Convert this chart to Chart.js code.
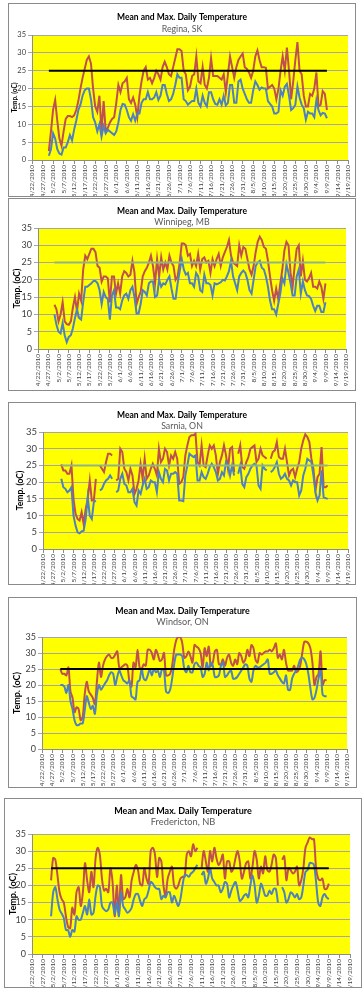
<!DOCTYPE html>
<html>
<head>
<meta charset="utf-8">
<script src="https://cdn.jsdelivr.net/npm/chart.js@4.4.1/dist/chart.umd.min.js"></script>
<style>
  body { margin: 0; background: #fff; width: 364px; height: 1000px; position: relative; overflow: hidden; }
  .box { position: absolute; border: 1px solid #8a8a8a; background: #fff; box-sizing: border-box; overflow: hidden; }
  .box canvas { position: absolute; left: 0; top: 0; }
</style>
</head>
<body>
<div class="box" id="p1"><canvas id="c1"></canvas></div>
<div class="box" id="p2"><canvas id="c2"></canvas></div>
<div class="box" id="p3"><canvas id="c3"></canvas></div>
<div class="box" id="p4"><canvas id="c4"></canvas></div>
<div class="box" id="p5"><canvas id="c5"></canvas></div>
<script>
// x axis: day number, day 0 = 4/22/2010, one label every 5 days
var tickLabels = ['4/22/2010','4/27/2010','5/2/2010','5/7/2010','5/12/2010','5/17/2010','5/22/2010',
  '5/27/2010','6/1/2010','6/6/2010','6/11/2010','6/16/2010','6/21/2010','6/26/2010','7/1/2010',
  '7/6/2010','7/11/2010','7/16/2010','7/21/2010','7/26/2010','7/31/2010','8/5/2010','8/10/2010',
  '8/15/2010','8/20/2010','8/25/2010','8/30/2010','9/4/2010','9/9/2010','9/14/2010','9/19/2010'];
var lastDay = 140;   // 9/9/2010
var limitTemp = 25;

// Regina, SK  (first value = day 8, 4/30)
var reginaStart = 8;
var reginaMax = [2.5,8,14,16.8,11,6,4,8,11.5,12.3, 12.3,12,12.5,14,16.5,20,23,25.5,28,29,
  27,20,15,13.5,18,8,16.5,8,9,10.5, 11.5,12,16,21,19,21.5,22,23,17,16,
  17.5,15.5,12,18,22,25,26,22.5,23,21.5, 23,25,24,22.5,26,27.5,26,24,23.5,26,
  28.5,31,31,30.5,25,24,19.5,20.5,23.5,24, 29,22,21.5,26,21,20,23,28.5,23.5,23.5,
  23.5,23,22.5,24,19,24,29,26,23,26, 28,29,29.8,26,25.5,24.5,23,25,29,30.7,
  28,26,26,25.8,20,20.5,21,20,17,20, 25,29,25,31.5,25,17,22,28,33,25,
  24,18,15,15,18.5,18,20,24.5,15,15.5, 19.3,18.5,14];
var reginaMean = [1.2,3,7.5,6,3,1.8,1.5,3.5,3.5,5, 7,5.5,8.5,11,14,15.5,18,19.5,20,20,
  17,12,10.5,8,10,6.5,9.5,7.5,8.5,8, 7.5,7,8,10.5,14,15.7,15.5,14,12,11,
  12.8,11,13,13,16,17,17,19,17,17, 17.5,19,16.8,18,21,21,18.5,16.5,17,18.5,
  21,24,23,23,17,16.5,15.5,16,16.5,16.5, 20,16,15,18,16,15,19,19,17,15.7,
  15.5,17,15.5,18,15.3,16,21,21,16,16, 22,22.5,20,18.5,17,16,16,19.5,22,21,
  19.7,20.3,20,20,16.5,15.7,15,13,13,13.5, 19.5,18,20.5,21.3,18,14,14.5,15.5,20.6,17.5,
  15.5,14.5,11.3,13.5,13,13,12,16.8,14,12.5, 13.2,13,11.7];

// Winnipeg, MB  (first value = day 8)
var winnipegStart = 8;
var winnipegMax = [12.8,11.5,8,10,13.5,8,7.2,7,8,12, 15,11,16,14,23,27,26,27.5,29,29,
  28,24,23.5,19.5,21,21,20.5,13.5,21,21, 16,19,16,21,22.5,22,21,21.5,25.5,22,
  13,15,16.5,21,22.5,23.5,25,27,24,19, 26,21,26.5,23,25,23,27,25,24,20,
  21,25,30.5,30.5,30,27,27.5,24,25.5,24, 27.5,23,26,26.5,25,25.5,22,26,24,26,
  27.5,24,26.5,28,29.5,31.5,27,25,24.5,24, 30,27,29.5,29,26,23,21.5,24,28,31,
  32.5,31.5,29.5,29,25.5,21,17,14,17.5,14.5, 19,23,28.5,31,30,22,18,24,29,30,
  21,25.5,20,19.5,20.5,22,18,18,17.5,19.5, 18,14.5,19];
var winnipegMean = [10,7,5,4.5,7.5,4,2,3.5,4,6, 9,11.5,9,8.5,13.5,18,18,18.5,19,19.7,
  19.7,19,17,13,16.5,15,14.5,8.5,15.5,17, 12,12,11.5,14,15.5,16,14.5,17,18,15,
  10.3,10.3,13,17,16.5,15.5,19,19.5,19.5,15, 15.5,20,18,19,18.7,20,21,17.5,14.5,14.5,
  19,22.5,26,23,21.5,22,19,19,18,22, 21,17,16.5,21.5,19,19,18.5,15.5,19,18.7,
  19,19.3,20,19.8,21,22.5,25.5,21,19,17, 21,22,22.7,22,20,17,16,20,24,25,
  25.5,23.5,23,21,18,14,11.5,11.5,10,13, 16,20.5,19,24.5,22,19,15.5,15.5,21,23,
  16,19.5,17,15.5,15.3,14.5,12.5,11,12.5,12.5, 10.7,10.7,13.5];

// Sarnia, ON  (first value = day 9, 5/1)
var sarniaStart = 9;
var sarniaMax = [25.3,23.5,23.5,22.5,22.5,25,15,10.5,9,8.5, 11,7.5,12,15,20.5,14.5,14.5,21,null,25,
  24,23,26,28.5,28.5,28,null,20.5,21,30, 29,24,23,20.5,24,22,16.5,18,20.5,25.5,
  21,27,21,22,24,25.5,24,22,30,26, 27,30,29,25,28,27,29,27,19.5,20,
  21.5,28,31,33.5,34,34,34.5,26,25,31, 25,24.5,28,31,30,31,28,22.5,26,28,
  31,28,24,30,30.5,23,null,28.5,31,24.5, 24,26,27.5,30,30.5,31,26,27,30,28,
  27.5,27,null,27,29,29.5,32,27.5,27,27, 30,26,22,23.5,24,21.5,24,26,30,32.5,
  34.3,33.5,32,27,24,17.5,21.5,22.5,30.5,18.5, 18.5,19];
var sarniaMean = [21,18.5,18,17,17.5,18.5,10,7,5,4.7, 5.3,5.5,9,15.5,10,9,14,14.5,null,17.5,
  18,19.5,20.5,21,22,21,null,17,17.5,21, 22.5,19.5,19,17,17,18,14,13,17.5,16.5,
  19,21,18,18.5,20.5,20,20,17,23,21, 20,24,23.5,20.5,22.5,22.5,23,22.5,14.5,14.5,
  14.3,22,25,28.5,28,27.5,28,20.5,20.5,23, 21.5,21,22.5,24.5,25.5,24.5,23,20.5,21,23,
  22,26,25,22,25,22,null,22.5,25,19.5, 18.5,21.5,22.5,24,25,25.5,25,19,18,25,
  24,23.5,null,23,23.5,24.5,26,22.5,21,21.5, 22.5,21,20.5,19,20.5,20,20,16,17.5,22,
  24,27,26.5,26,22,17,14.5,16,23.5,15.5, 15.2,15];

// Windsor, ON  (first value = day 9)
var windsorStart = 9;
var windsorMax = [25,23.5,23.5,23,25.5,18,16,11.5,13,12.5, 9,10,17,21,18,17,16,14,21,27,
  22.5,26,28,29,29.5,28.5,28.5,29.5,30.5,25.5, 25.5,26,26.5,26,21,19.5,27,25.5,31,25.5,
  25,26.5,26,31,31,30,28,31,29.5,27.5, 28,30,23,23,23.5,26,31,34,35,35,
  33,28.5,29,30.5,29,27,32.5,32,31.5,30, 25.5,31.5,29,32,26,27,30.5,31,26.5,26.5,
  28,26,28.5,29.5,27,26,28,26.5,30,29, 27,28,31,29,32.5,31.5,28,27,30,29.5,
  30,30.5,30.5,31,30.5,31.5,33,28.5,29.5,28, 31,27,24.5,24.5,24.5,26,24,24.5,26,30,
  33.5,33.5,33,31.5,27,20,22.5,23.5,30.5,20, 21.5,21.5];
var windsorMean = [20,20,19.5,17.5,20,15,12.5,9,7.5,7.5, 8,8,12,16.5,14.5,12.5,13.5,11,17,20,
  18.5,19.5,20.5,21.5,23,24,23.5,20,22.5,24.5, 23,21.5,21,20.5,21.5,16.5,16,15.5,21,21.5,
  25,22,21.5,23,25,23,25,24,24.5,22.5, 25,24.5,18,17.5,18.5,22,26.5,29.5,29.5,29.5,
  29,25,24,26,24,24,26.5,27,26,25.5, 22.5,23.5,27,24.5,27,26,22.5,22.5,23,26,
  27,22.5,23,24,24.5,22,22,22.5,23.5,24.5, 25.5,26.5,26,22,21,24.5,26,25.5,25.5,26,
  26.5,27,28,23.5,23.5,24,24.5,23,22,21, 20.5,23,18.5,18.5,22,23.5,24.5,26,28,28.5,
  28,26.5,23.5,19,15.5,16,18.5,22,24.5,17, 16.5,16.5];

// Fredericton, NB  (first value = day 9)
var frederictonStart = 9;
var frederictonMax = [21.5,28,27.5,23,18,16,15,11,8,7.5, 13.5,11.5,18,19.5,14,18,26.5,21.5,18,24,
  19.5,28,31,29,22,18.5,19,18,25,21, 11,20,12,23,16,16.5,19,16.5,21.5,24,
  26,24.5,20.5,20,25,22,20.5,30,31,29, 22.5,28,27,20,17,22,24,25.5,20,19,
  20,22,22.5,22.5,29,30,28.5,32,30,31, null,25,30,27,24,30,27,31,28,26,
  27,29,22,27,27,24,25,28,30,27, 22,24,26.5,27,22,25.5,30,27.5,22,25.5,
  23.5,28.5,24.5,24,26,29,28,20,null,27.5, 28.5,21.5,25,24.5,23.5,24,25.5,20,21.5,25,
  31,32.5,34,33.5,33.5,25,22,21.5,22,19, 19,20.5];
var frederictonMean = [11,18,19.5,16,13,11.8,10.5,7,7,5, 7,6.5,11,10,10,12,14,11.5,16,11.5,
  12,17,20,19.5,14,13,12.5,13,15,15, 11.5,15,11,18,14,13,12,12.5,13.5,16,
  17.5,17.5,15.5,14,16,16.5,18.5,21,20.5,19.5, 19,19,16,17,16.5,18,18,15,17,15.5,
  14,16,20,23,23,22.5,23.5,24,25,26, null,23,24,20.5,22,25,22,21,20,20,
  18,19,21,20.5,16.5,18.5,20,21,18.5,15.5, 16,17,17.5,16.5,20,23,20,15,17,20.5,
  19,17,17,18.5,17.5,19,19,15,null,19.5, 18,15,16,18,17.5,16.5,17.5,16,16.5,20,
  24,24.5,26.5,26.5,26,21,15,14,16.5,17.5, 16.5,16];

var maxColor = '#C0504D';
var meanColor = '#4F81BD';
var fontFamily = 'Lato, "Open Sans", sans-serif';

// box = outer frame (left, top, width, height); plot = yellow area in page pixels
var panels = [
  { id: 'c1', box: [8, 3, 348, 194], plot: [32, 35, 348, 160], place: 'Regina, SK',
    start: reginaStart, max: reginaMax, mean: reginaMean, limitColor: '#000000', smooth: 0,
    titleY: 17, subY: 29, titleSize: 8.5, tickSize: 7.5, yTitleSize: 6.5, yTitleX: 15 },
  { id: 'c2', box: [8, 198, 348, 193], plot: [38, 228, 346, 349], place: 'Winnipeg, MB',
    start: winnipegStart, max: winnipegMax, mean: winnipegMean, limitColor: '#8fb48a', smooth: 0,
    titleY: 211, subY: 222, titleSize: 8.5, tickSize: 9, yTitleSize: 8.5, yTitleX: 17 },
  { id: 'c3', box: [8, 402, 348, 183], plot: [43, 432, 348, 549], place: 'Sarnia, ON',
    start: sarniaStart, max: sarniaMax, mean: sarniaMean, limitColor: '#8fb48a', smooth: 0,
    titleY: 415, subY: 426, titleSize: 8.5, tickSize: 9.5, yTitleSize: 8.5, yTitleX: 20 },
  { id: 'c4', box: [8, 597, 349, 191], plot: [42, 637, 347, 749], place: 'Windsor, ON',
    start: windsorStart, max: windsorMax, mean: windsorMean, limitColor: '#000000', smooth: 0.3,
    titleY: 611, subY: 622, titleSize: 8.8, tickSize: 9, yTitleSize: 9, yTitleX: 17 },
  { id: 'c5', box: [4, 798, 358, 190], plot: [32, 834, 350, 954], place: 'Fredericton, NB',
    start: frederictonStart, max: frederictonMax, mean: frederictonMean, limitColor: '#000000', smooth: 0.3,
    titleY: 811, subY: 822, titleSize: 9, tickSize: 9, yTitleSize: 9, yTitleX: 13 }
];

function toPoints(start, values) {
  return values.map(function (v, i) { return { x: start + i, y: v }; });
}

// yellow plot background + chart title / station name
var panelDecor = {
  id: 'panelDecor',
  beforeDraw: function (chart) {
    var a = chart.chartArea, ctx = chart.ctx;
    ctx.save();
    ctx.fillStyle = '#FFFF00';
    ctx.fillRect(a.left, a.top, a.right - a.left, a.bottom - a.top);
    ctx.restore();
  },
  afterDraw: function (chart) {
    var o = chart.options.plugins.panelDecor, ctx = chart.ctx;
    ctx.save();
    ctx.textAlign = 'center';
    ctx.textBaseline = 'middle';
    ctx.fillStyle = '#000';
    ctx.font = 'bold ' + o.titleSize + 'px ' + fontFamily;
    ctx.fillText('Mean and Max. Daily Temperature', chart.width / 2, o.titleY);
    ctx.fillStyle = '#595959';
    ctx.font = (o.titleSize + 0.3) + 'px ' + fontFamily;
    ctx.fillText(o.place, chart.width / 2, o.subY);
    ctx.restore();
  }
};

panels.forEach(function (p) {
  var el = document.getElementById(p.id);
  var frame = el.parentNode;
  frame.style.left = p.box[0] + 'px';
  frame.style.top = p.box[1] + 'px';
  frame.style.width = p.box[2] + 'px';
  frame.style.height = p.box[3] + 'px';
  var cx = p.box[0] + 1, cy = p.box[1] + 1;
  var cw = p.box[2] - 2, ch = p.box[3] - 2;
  el.width = cw; el.height = ch;
  el.style.width = cw + 'px'; el.style.height = ch + 'px';

  var yWidth = p.plot[0] - cx;
  var xHeight = cy + ch - p.plot[3];
  var yTitleLine = p.yTitleSize * 1.2;

  new Chart(el.getContext('2d'), {
    type: 'line',
    data: {
      datasets: [
        { label: 'Limit', data: [{ x: p.start, y: limitTemp }, { x: lastDay, y: limitTemp }],
          borderColor: p.limitColor, borderWidth: 2, pointRadius: 0, fill: false },
        { label: 'Mean', data: toPoints(p.start, p.mean), borderColor: meanColor, borderWidth: 2,
          pointRadius: 0, fill: false, tension: p.smooth, spanGaps: false },
        { label: 'Max', data: toPoints(p.start, p.max), borderColor: maxColor, borderWidth: 2,
          pointRadius: 0, fill: false, tension: p.smooth, spanGaps: false }
      ]
    },
    options: {
      responsive: false,
      animation: false,
      layout: { padding: { top: p.plot[1] - cy, right: cx + cw - p.plot[2], left: 0, bottom: 0 } },
      plugins: {
        legend: { display: false },
        tooltip: { enabled: false },
        panelDecor: { titleY: p.titleY - cy, subY: p.subY - cy, titleSize: p.titleSize, place: p.place }
      },
      scales: {
        x: {
          type: 'linear', min: 0, max: 150,
          grid: { display: true, drawOnChartArea: false, color: '#8c8c8c', tickLength: 4 },
          border: { color: '#8c8c8c' },
          ticks: {
            stepSize: 5, autoSkip: false, maxRotation: 90, minRotation: 90, padding: 1,
            color: '#404040', font: { size: 6.5, family: fontFamily },
            callback: function (v) { return tickLabels[Math.round(v / 5)]; }
          },
          afterFit: function (s) { s.height = xHeight; s.paddingLeft = 0; s.paddingRight = 0; }
        },
        y: {
          min: 0, max: 35,
          grid: { color: '#a6a6a6', tickLength: 4 },
          border: { color: '#8c8c8c' },
          ticks: { stepSize: 5, padding: 2, color: '#404040', font: { size: p.tickSize, family: fontFamily } },
          title: {
            display: true, text: 'Temp. (oC)', color: '#000',
            font: { size: p.yTitleSize, weight: 'bold', family: fontFamily },
            padding: { top: p.yTitleX - cx - yTitleLine / 2, bottom: 0 }
          },
          afterFit: function (s) { s.width = yWidth; s.paddingTop = 0; s.paddingBottom = 0; }
        }
      }
    },
    plugins: [panelDecor]
  });
});
</script>
</body>
</html>
